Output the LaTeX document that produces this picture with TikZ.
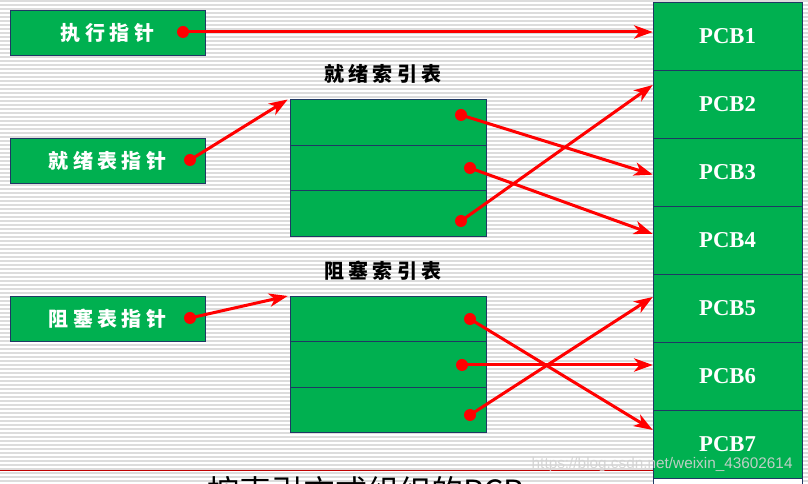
\documentclass[tikz,border=0pt]{standalone}
\usepackage{fontspec}
\setmainfont{Liberation Serif}
\setsansfont{Liberation Sans}
\newfontfamily\cjk[LetterSpace=22]{Noto Sans CJK SC}
\newfontfamily\cjkplain{Noto Sans CJK SC}
\usetikzlibrary{arrows.meta}
\definecolor{boxgreen}{RGB}{0,176,80}
\definecolor{boxline}{RGB}{31,56,100}
\definecolor{stripegray}{RGB}{220,220,220}
\definecolor{darkline}{RGB}{192,0,0}

\begin{document}
\begin{tikzpicture}[x=0.75pt, y=-0.75pt,
    ptrbox/.style={draw=boxline, fill=boxgreen, text=white, inner sep=0pt,
        minimum width=146.25pt, minimum height=33.75pt,
        font=\cjk\bfseries\fontsize{15}{15}\selectfont},
    rowbox/.style={draw=boxline, fill=boxgreen, inner sep=0pt,
        minimum width=147pt, minimum height=34.125pt},
    pcbbox/.style={draw=boxline, fill=boxgreen, text=white, inner sep=0pt,
        minimum width=111.75pt, minimum height=51pt,
        font=\bfseries\fontsize{17}{17}\selectfont},
    title/.style={font=\cjk\bfseries\fontsize{15}{15}\selectfont},
    ptrline/.style={draw=red, line width=2.25pt,
        -{Stealth[length=14pt, width=10pt, inset=4pt]}},
    dot/.style={fill=red}
]
    \useasboundingbox (0,0) rectangle (808,484);
    \clip (0,0) rectangle (808,484);
    % striped background
    \foreach \y in {1,5,...,484} \draw[stripegray, line width=0.9pt] (0,\y) -- (808,\y);
    \draw[darkline, line width=0.75pt] (0,471) -- (653,471);

    % pointer boxes
    \node[ptrbox] (run) at (107.5,32.5) {执行指针};
    \node[ptrbox] (readyptr) at (107.5,161) {就绪表指针};
    \node[ptrbox] (blockptr) at (107.5,319) {阻塞表指针};

    % index tables
    \node[title] (readytitle) at (383,74) {就绪索引表};
    \node[rowbox] (r1) at (388,122.5) {};
    \node[rowbox] (r2) at (388,168) {};
    \node[rowbox] (r3) at (388,213.5) {};
    \node[title] (blocktitle) at (383,271) {阻塞索引表};
    \node[rowbox] (b1) at (388,319) {};
    \node[rowbox] (b2) at (388,364.5) {};
    \node[rowbox] (b3) at (388,410) {};

    % PCB column
    \foreach \i in {1,...,7}
        \node[pcbbox] (p\i) at (727.5,{36+68*(\i-1)}) {PCB\i};
    \node[pcbbox, fill=white] (p8) at (727.5,512) {};

    % caption and watermark
    \node[font=\cjkplain\fontsize{24}{24}\selectfont] (caption) at (366,491) {按索引方式组织的PCB};
    \node[font=\sffamily\fontsize{11.5}{11.5}\selectfont, text=gray!35, opacity=0.9,
        anchor=west] (mark) at (527,465) {https://blog.csdn.net/weixin\_43602614};

    % pointer start points
    \coordinate (d0) at (183,32);
    \coordinate (d1) at (190,160);
    \coordinate (d2) at (190,318);
    \coordinate (e1) at (461,115);
    \coordinate (e2) at (470,168);
    \coordinate (e3) at (461,221);
    \coordinate (f1) at (470,319);
    \coordinate (f2) at (462,365);
    \coordinate (f3) at (470,415);

    % pointers
    \draw[ptrline] (d0) -- ([yshift=3pt]p1.west);
    \draw[ptrline] (d1) -- ([xshift=-1.5pt]r1.north west);
    \draw[ptrline] (d2) -- ([xshift=-1.5pt]b1.north west);
    \draw[ptrline] (e1) -- ([yshift=-2pt]p3.west);
    \draw[ptrline] (e2) -- ([yshift=4.5pt]p4.west);
    \draw[ptrline] (e3) -- ([yshift=14.25pt]p2.west);
    \draw[ptrline] (f1) -- ([yshift=10.5pt]p7.west);
    \draw[ptrline] (f2) -- ([yshift=8.25pt]p6.west);
    \draw[ptrline] (f3) -- ([yshift=8.25pt]p5.west);
    \foreach \d in {d0,d1,d2,e1,e2,e3,f1,f2,f3} \fill[dot] (\d) circle (4.5pt);
\end{tikzpicture}
\end{document}
